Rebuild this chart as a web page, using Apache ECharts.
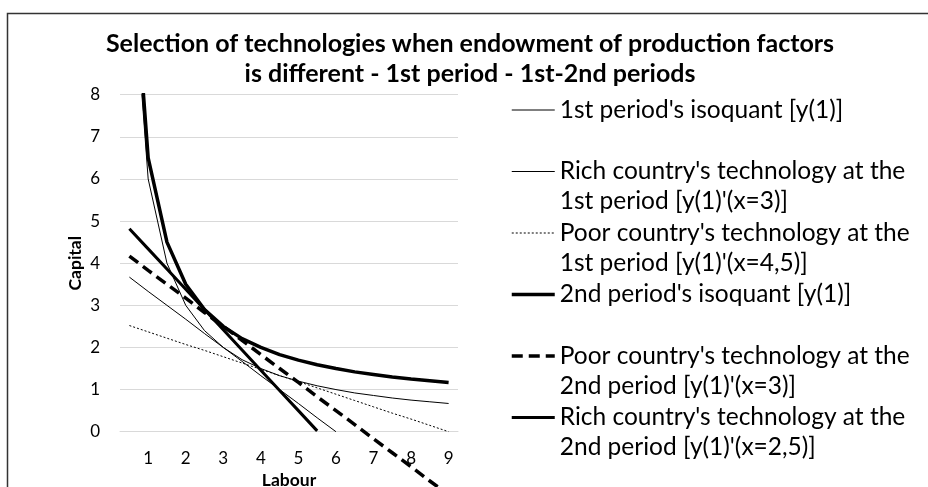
<!DOCTYPE html>
<html>
<head>
<meta charset="utf-8">
<script src="https://cdn.jsdelivr.net/npm/echarts@6/dist/echarts.min.js"></script>
<style>html,body{margin:0;padding:0;background:#fff;}#c{width:928px;height:487px;}</style>
</head>
<body>
<div id="c"></div>
<script>
var categories = ['0.5','1','1.5','2','2.5','3','3.5','4','4.5','5','5.5','6','6.5','7','7.5','8','8.5','9'];
var names = [
  "1st period's isoquant [y(1)]",
  "Rich country's technology at the\n1st period [y(1)'(x=3)]",
  "Poor country's technology at the\n1st period [y(1)'(x=4,5)]",
  "2nd period's isoquant [y(1)]",
  "Poor country's technology at the\n2nd period [y(1)'(x=3)]",
  "Rich country's technology at the\n2nd period [y(1)'(x=2,5)]"
];
var iso1  = [12, 6, 4, 3, 2.4, 2, 1.71, 1.5, 1.33, 1.2, 1.09, 1, 0.92, 0.86, 0.8, 0.75, 0.71, 0.67];
var rich1 = [3.67, 3.33, 3, 2.67, 2.33, 2, 1.67, 1.33, 1, 0.67, 0.33, 0, null, null, null, null, null, null];
var poor1 = [2.52, 2.37, 2.22, 2.07, 1.93, 1.78, 1.63, 1.48, 1.33, 1.19, 1.04, 0.89, 0.74, 0.59, 0.44, 0.30, 0.15, 0];
var iso2  = [12.5, 6.5, 4.5, 3.5, 2.9, 2.5, 2.21, 2, 1.83, 1.7, 1.59, 1.5, 1.42, 1.36, 1.3, 1.25, 1.21, 1.17];
var poor2 = [4.17, 3.83, 3.5, 3.17, 2.83, 2.5, 2.17, 1.83, 1.5, 1.17, 0.83, 0.5, 0.17, -0.17, -0.5, -0.83, -1.17, -1.5];
var rich2 = [4.82, 4.34, 3.86, 3.38, 2.9, 2.42, 1.94, 1.46, 0.98, 0.5, 0.02, null, null, null, null, null, null, null];
var yTicks = [0, 8, 1];

var FONT = 'Lato';
var chart = echarts.init(document.getElementById('c'), null, {renderer: 'canvas'});

// Legend label: a blank line is placed first so that the first real line sits level with the line sample
function legendName(n) {
  return ' \n' + (n.indexOf('\n') >= 0 ? n : n + '\n ');
}

var styles = [
  {width: 1, type: 'solid', clip: true},
  {width: 1, type: 'solid', clip: true},
  {width: 1, type: [2, 2], clip: true},
  {width: 3.5, type: 'solid', clip: true},
  {width: 3.5, type: [11, 6], clip: false},
  {width: 3, type: 'solid', clip: true}
];
var datas = [iso1, rich1, poor1, iso2, poor2, rich2];

var series = datas.map(function (d, i) {
  return {
    name: legendName(names[i]),
    type: 'line',
    data: d,
    symbol: 'none',
    clip: styles[i].clip,
    connectNulls: false,
    lineStyle: {color: '#000', width: styles[i].width, type: styles[i].type, cap: 'butt'},
    itemStyle: {color: '#000'},
    z: 2 + i
  };
});

chart.setOption({
  animation: false,
  backgroundColor: '#fff',
  graphic: [{
    type: 'rect', shape: {x: 7.5, y: 13.5, width: 1000, height: 1000},
    style: {fill: 'none', stroke: '#333', lineWidth: 1.5}, silent: true, z: -1
  }],
  title: {
    text: 'Selection of technologies when endowment of production factors\nis different - 1st period - 1st-2nd periods',
    left: 465, top: 24, textAlign: 'center',
    textStyle: {fontFamily: FONT, fontWeight: 'bold', fontSize: 25, lineHeight: 30, color: '#000'}
  },
  legend: {
    orient: 'vertical', left: 505, top: 60,
    itemWidth: 43, itemHeight: 14, itemGap: -28.5,
    itemStyle: {color: 'rgba(0,0,0,0)', borderWidth: 0},
    lineStyle: {width: 'inherit', type: 'inherit'},
    textStyle: {fontFamily: FONT, fontSize: 24.5, lineHeight: 30, color: '#000'},
    data: series.map(function (s) { return s.name; })
  },
  grid: {left: 120, right: 470, top: 94.7, bottom: 55.3, containLabel: false, outerBoundsMode: 'none'},
  xAxis: {
    type: 'category', data: categories, boundaryGap: true,
    name: 'Labour', nameLocation: 'middle', nameGap: 37,
    nameTextStyle: {fontFamily: FONT, fontWeight: 'bold', fontSize: 17.5, color: '#000'},
    axisLine: {show: true, lineStyle: {color: '#d9d9d9'}},
    axisTick: {show: false},
    axisLabel: {
      fontFamily: FONT, fontSize: 17, color: '#000', margin: 18,
      interval: function (idx, val) { return Number(val) % 1 === 0; }
    },
    splitLine: {show: false}
  },
  yAxis: {
    type: 'value', min: yTicks[0], max: yTicks[1], interval: yTicks[2],
    name: 'Capital', nameLocation: 'middle', nameGap: 36, nameRotate: 90,
    nameTextStyle: {fontFamily: FONT, fontWeight: 'bold', fontSize: 17.5, color: '#000'},
    axisLine: {show: false}, axisTick: {show: false},
    axisLabel: {fontFamily: FONT, fontSize: 17, color: '#000', margin: 20},
    splitLine: {lineStyle: {color: '#d9d9d9', width: 1}}
  },
  series: series
});
</script>
</body>
</html>
